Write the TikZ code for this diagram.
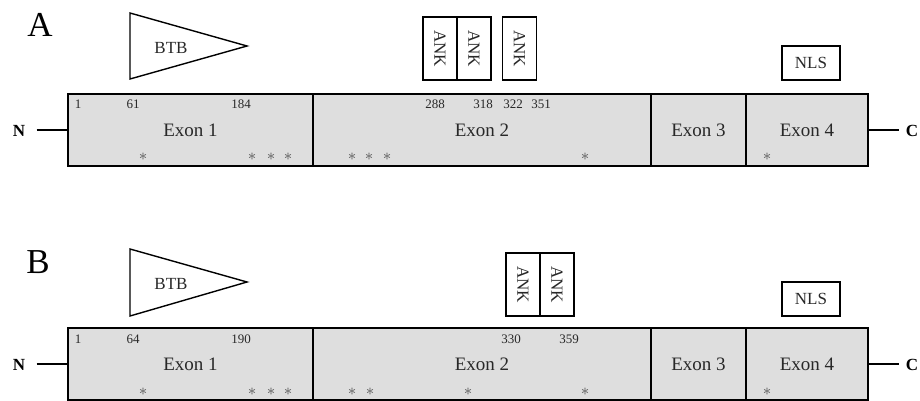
\documentclass[tikz,border=0pt]{standalone}
\usepackage{fontspec}
\setmainfont{Liberation Serif}
\usetikzlibrary{positioning}
\definecolor{exongray}{RGB}{222,222,222}
\definecolor{txtgray}{RGB}{40,40,40}
\definecolor{mutgray}{RGB}{90,90,90}
\tikzset{
    exon/.style={draw, fill=exongray, line width=0.8pt, inner sep=0pt, outer sep=0pt, minimum height=36pt, font=\fontsize{9.5}{11}\selectfont, text=txtgray},
    dom/.style={draw, fill=white, line width=0.7pt, inner sep=0pt, outer sep=0pt, font=\fontsize{8.5}{10}\selectfont, text=txtgray},
    ank/.style={dom, rotate=-90, minimum width=31.5pt, minimum height=17pt},
    nls/.style={dom, minimum width=29pt, minimum height=17pt},
    btblab/.style={inner sep=0pt, font=\fontsize{8.5}{10}\selectfont, text=txtgray},
    aapos/.style={inner sep=0pt, font=\fontsize{6.5}{8}\selectfont, text=txtgray},
    mut/.style={inner sep=0pt, font=\fontsize{8.5}{10}\selectfont, text=mutgray},
    term/.style={inner sep=0pt, font=\bfseries\fontsize{8.5}{10}\selectfont},
    panel/.style={inner sep=0pt, font=\fontsize{17.5}{20}\selectfont}}

\begin{document}
\begin{tikzpicture}[x=0.5pt, y=-0.5pt]
\useasboundingbox (0,0) rectangle (920,401);

%Panel A
\node[panel] (labA) at (40,25) {A};
\coordinate (btbA1) at (130,13);
\coordinate (btbA2) at (247,46);
\coordinate (btbA3) at (130,79);
\draw[line width=0.7pt] (btbA1) -- (btbA2) -- (btbA3) -- cycle;
\node[btblab] (btbA) at (171,48) {BTB};
\node[ank] (ankA1) at (440,48.5) {ANK};
\node[ank] (ankA2) at (474,48.5) {ANK};
\node[ank] (ankA3) at (519.5,48.5) {ANK};
\node[nls] (nlsA) at (811,63) {NLS};

\node[exon, minimum width=122.5pt, anchor=north west] (exA1) at (68,94) {Exon 1};
\node[exon, minimum width=169pt, right=0pt of exA1] (exA2) {Exon 2};
\node[exon, minimum width=47.5pt, right=0pt of exA2] (exA3) {Exon 3};
\node[exon, minimum width=61pt, right=0pt of exA3] (exA4) {Exon 4};

\node[term] (nA) at (19,131) {N};
\node[term] (cA) at (912,131) {C};
\draw[line width=0.8pt] ([xshift=5.5pt]exA1.west -| nA.east) -- (exA1.west);
\draw[line width=0.8pt] (exA4.east) -- ([xshift=-3pt]exA4.east -| cA.west);

\node[aapos] (pA1) at (78,104) {1};
\node[aapos] (pA2) at (133,104) {61};
\node[aapos] (pA3) at (241,104) {184};
\node[aapos] (pA4) at (435,104) {288};
\node[aapos] (pA5) at (483,104) {318};
\node[aapos] (pA6) at (513,104) {322};
\node[aapos] (pA7) at (541,104) {351};

\node[mut] (mA1) at (143,157) {$\ast$};
\node[mut] (mA2) at (252,157) {$\ast$};
\node[mut] (mA3) at (271,157) {$\ast$};
\node[mut] (mA4) at (288,157) {$\ast$};
\node[mut] (mA5) at (352,157) {$\ast$};
\node[mut] (mA6) at (369,157) {$\ast$};
\node[mut] (mA7) at (387,157) {$\ast$};
\node[mut] (mA8) at (585,157) {$\ast$};
\node[mut] (mA9) at (767,157) {$\ast$};

%Panel B
\node[panel] (labB) at (38,262) {B};
\coordinate (btbB1) at (130,249);
\coordinate (btbB2) at (247,282);
\coordinate (btbB3) at (130,316);
\draw[line width=0.7pt] (btbB1) -- (btbB2) -- (btbB3) -- cycle;
\node[btblab] (btbB) at (171,284) {BTB};
\node[ank] (ankB1) at (523,284.5) {ANK};
\node[ank] (ankB2) at (557,284.5) {ANK};
\node[nls] (nlsB) at (811,299) {NLS};

\node[exon, minimum width=122.5pt, anchor=north west] (exB1) at (68,328) {Exon 1};
\node[exon, minimum width=169pt, right=0pt of exB1] (exB2) {Exon 2};
\node[exon, minimum width=47.5pt, right=0pt of exB2] (exB3) {Exon 3};
\node[exon, minimum width=61pt, right=0pt of exB3] (exB4) {Exon 4};

\node[term] (nB) at (19,365) {N};
\node[term] (cB) at (912,365) {C};
\draw[line width=0.8pt] ([xshift=5.5pt]exB1.west -| nB.east) -- (exB1.west);
\draw[line width=0.8pt] (exB4.east) -- ([xshift=-3pt]exB4.east -| cB.west);

\node[aapos] (pB1) at (78,339) {1};
\node[aapos] (pB2) at (133,339) {64};
\node[aapos] (pB3) at (241,339) {190};
\node[aapos] (pB4) at (511,339) {330};
\node[aapos] (pB5) at (569,339) {359};

\node[mut] (mB1) at (143,392) {$\ast$};
\node[mut] (mB2) at (252,392) {$\ast$};
\node[mut] (mB3) at (271,392) {$\ast$};
\node[mut] (mB4) at (288,392) {$\ast$};
\node[mut] (mB5) at (352,392) {$\ast$};
\node[mut] (mB6) at (370,392) {$\ast$};
\node[mut] (mB7) at (468,392) {$\ast$};
\node[mut] (mB8) at (585,392) {$\ast$};
\node[mut] (mB9) at (767,392) {$\ast$};

\end{tikzpicture}
\end{document}
